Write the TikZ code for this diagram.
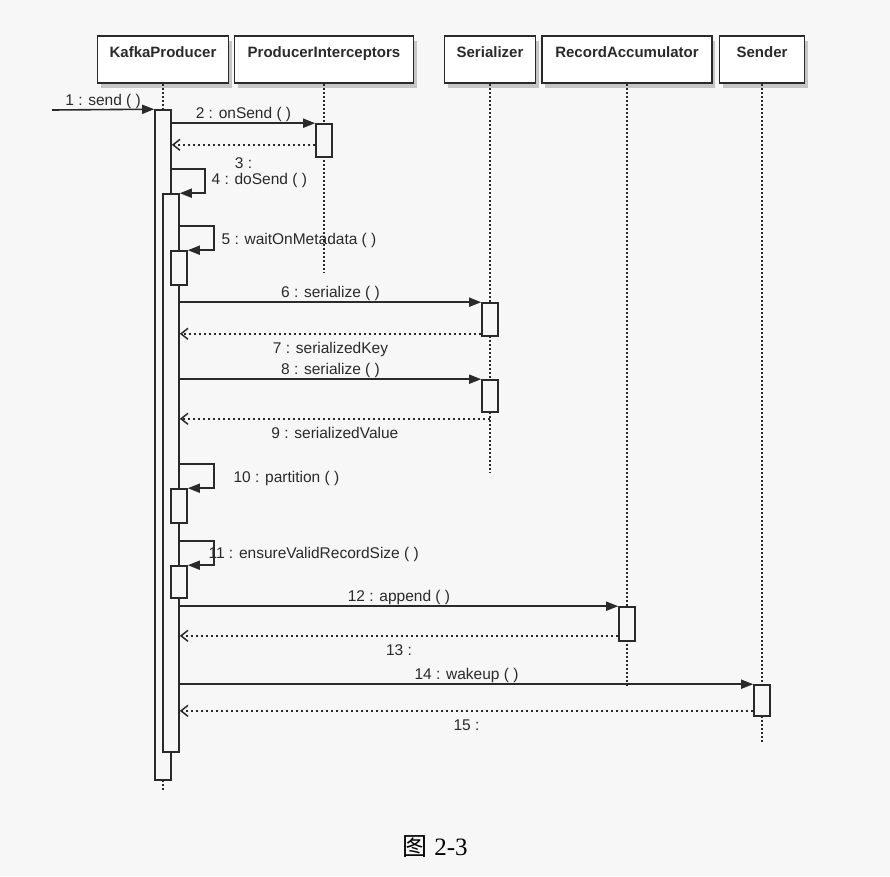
\documentclass[tikz,border=0pt]{standalone}
\usepackage{fontspec}
\setmainfont{Liberation Sans}
\newfontfamily\cjk{Noto Sans CJK SC}
\newfontfamily\capfont{Liberation Serif}
\usetikzlibrary{arrows.meta,shadows}

\definecolor{ink}{HTML}{2A2A2A}
\definecolor{paper}{HTML}{F7F7F7}

\begin{document}
\begin{tikzpicture}[x=1pt, y=-1pt,
    head/.style={draw=ink, line width=1.8pt, fill=white, minimum width=#1,
      text height=21pt, text depth=26pt, inner ysep=0pt, text=ink,
      font=\bfseries\fontsize{15}{18}\selectfont,
      drop shadow={shadow xshift=3pt, shadow yshift=-5pt, fill=gray!70, opacity=0.6}},
    bar/.style={draw=ink, line width=1.6pt, fill=paper, minimum width=16pt,
      minimum height=#1, inner sep=0pt},
    life/.style={draw=ink, line width=1.4pt, dash pattern=on 2pt off 2pt},
    call/.style={draw=ink, line width=1.6pt, -{Triangle[length=12pt,width=9pt]}},
    ret/.style={draw=ink, line width=1.5pt, dash pattern=on 2.5pt off 2.5pt,
      -{Straight Barb[length=7pt,width=11pt]}},
    lbl/.style={font=\fontsize{15.5}{18}\selectfont, text=ink, anchor=base, inner sep=0pt},
    up/.style={lbl, yshift=4.5pt},
    down/.style={lbl, yshift=-20pt},
    self/.style={lbl, anchor=base west}]

  \fill[paper] (0,0) rectangle (890,876);
  \useasboundingbox (0,0) rectangle (890,876);

  % heads
  \node[head=131pt] (kp)  at (163,59.5) {KafkaProducer};
  \node[head=179pt] (pi)  at (324,59.5) {ProducerInterceptors};
  \node[head=91pt]  (ser) at (490,59.5) {Serializer};
  \node[head=170pt] (ra)  at (627,59.5) {RecordAccumulator};
  \node[head=85pt]  (snd) at (762,59.5) {Sender};

  % lifelines
  \coordinate (kpEnd)  at (163,790);
  \coordinate (piEnd)  at (324,273);
  \coordinate (serEnd) at (490,472);
  \coordinate (raEnd)  at (627,687);
  \coordinate (sndEnd) at (762,743);
  \draw[life] (kp.south) -- (kpEnd);
  \draw[life] (pi.south) -- (piEnd);
  \draw[life] (ser.south) -- (serEnd);
  \draw[life] (ra.south) -- (raEnd);
  \draw[life] (snd.south) -- (sndEnd);

  % activations
  \node[bar=670pt] (b1)  at (163,445) {};
  \node[bar=558pt] (b2)  at (171,473) {};
  \node[bar=34pt]  (b5)  at (179,268) {};
  \node[bar=34pt]  (b10) at (179,506) {};
  \node[bar=32pt]  (b11) at (179,582) {};
  \node[bar=33pt]  (pib) at (324,140.5) {};
  \node[bar=33pt]  (sb1) at (490,319.5) {};
  \node[bar=32pt]  (sb2) at (490,396)   {};
  \node[bar=34pt]  (rab) at (627,624)   {};
  \node[bar=31pt]  (sdb) at (762,700.5) {};

  % messages
  \coordinate (src) at (52,110);
  \draw[call] (src) -- (b1.north west) node[up, midway] {1 : send ( )};
  \draw[call] (b1.east |- pib.north) -- (pib.north west) node[up, midway] {2 : onSend ( )};
  \coordinate (r3) at ([yshift=13pt]pib.south west);
  \draw[ret] (r3) -- (r3 -| b1.east) node[down, midway, yshift=-4pt] {3 :};

  \coordinate (s4) at ([yshift=24pt]b2.north east);
  \draw[call] (s4 -| b1.east) -- ++(33,0)
    node[self, xshift=6pt, yshift=-15pt] {4 : doSend ( )} |- (b2.north east);
  \coordinate (s5) at ([yshift=24pt]b5.north east);
  \draw[call] (s5 -| b2.east) -- ++(34,0)
    node[self, xshift=7pt, yshift=-18pt] {5 : waitOnMetadata ( )} |- (b5.north east);

  \draw[call] (b2.east |- sb1.north) -- (sb1.north west) node[up, midway] {6 : serialize ( )};
  \coordinate (r7) at ([yshift=3pt]sb1.south west);
  \draw[ret] (r7) -- (r7 -| b2.east) node[down, midway] {7 : serializedKey};
  \draw[call] (b2.east |- sb2.north) -- (sb2.north west) node[up, midway] {8 : serialize ( )};
  \coordinate (r9) at ([yshift=-6pt]sb2.south);
  \draw[ret] (r9) -- (r9 -| b2.east) node[down, midway] {9 : serializedValue};

  \coordinate (s10) at ([yshift=24pt]b10.north east);
  \draw[call] (s10 -| b2.east) -- ++(34,0)
    node[self, xshift=19pt, yshift=-18pt] {10 : partition ( )} |- (b10.north east);
  \coordinate (s11) at ([yshift=24pt]b11.north east);
  \draw[call] (s11 -| b2.east) -- ++(34,0)
    node[self, xshift=-6pt, yshift=-17pt] {11 : ensureValidRecordSize ( )} |- (b11.north east);

  \draw[call] (b2.east |- rab.north) -- (rab.north west) node[up, midway] {12 : append ( )};
  \coordinate (r13) at ([yshift=6pt]rab.south west);
  \draw[ret] (r13) -- (r13 -| b2.east) node[down, midway] {13 :};
  \draw[call] (b2.east |- sdb.north) -- (sdb.north west) node[up, midway] {14 : wakeup ( )};
  \coordinate (r15) at ([yshift=6pt]sdb.south west);
  \draw[ret] (r15) -- (r15 -| b2.east) node[down, midway] {15 :};

  % caption
  \node[anchor=base, text=black, font=\fontsize{25}{30}\selectfont] (cap) at (435,855)
    {{\cjk 图} {\capfont 2-3}};
\end{tikzpicture}
\end{document}
